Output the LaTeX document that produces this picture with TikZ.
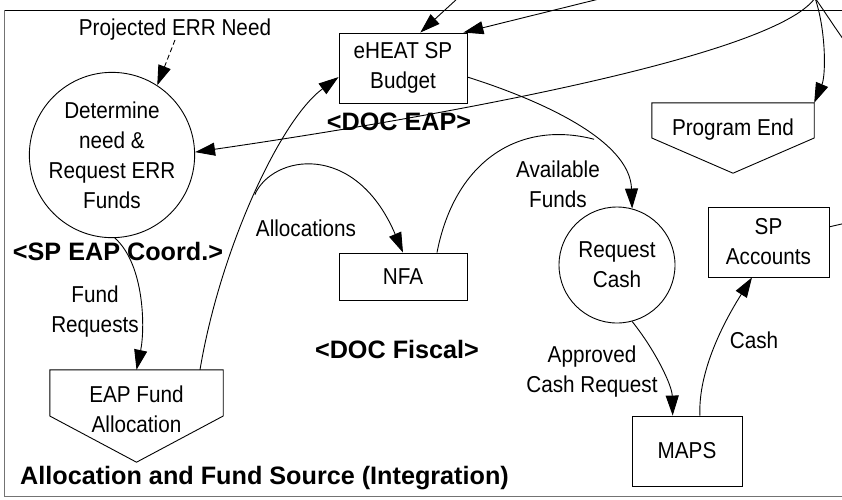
\documentclass[tikz,border=0pt]{standalone}
\usepackage{fontspec}
\setmainfont{Liberation Sans}[FakeStretch=0.9]
\newfontfamily\plainfam{Liberation Sans}
\usetikzlibrary{arrows.meta,calc}
\begin{document}
\begin{tikzpicture}[x=1pt,y=-1pt,
  every node/.style={font=\fontsize{23}{30}\selectfont, inner sep=0pt, text=black},
  boldlbl/.style={font=\plainfam\fontsize{25.2}{30}\selectfont\bfseries},
  proc/.style={circle, draw, line width=0.9pt, align=center},
  store/.style={rectangle, draw, line width=0.9pt, align=center},
  flow/.style={line width=0.9pt, -{Triangle[length=20pt,width=13pt]}},
  plain/.style={line width=0.9pt},
  dashflow/.style={flow, dash pattern=on 5pt off 3pt}
]
\useasboundingbox (0,0) rectangle (842,499);
\fill[white] (0,0) rectangle (842,499);

% frame
\draw[black, line width=0.9pt] (4.5,10) -- (842,10);
\draw[black!55, line width=1.3pt] (4.5,10) -- (4.5,496.5) -- (842,496.5);

% process / store nodes
\node[proc, minimum size=148] (det) at (112,155) {Determine\\need \&\\Request ERR\\Funds};
\node[store, minimum width=128, minimum height=70] (eheat) at (403,68) {eHEAT SP\\Budget};
\node[store, minimum width=128, minimum height=47] (nfa) at (403,276.5) {NFA};
\node[proc, minimum size=116] (rc) at (617,265) {Request\\Cash};
\node[store, minimum width=121, minimum height=70] (spa) at (768.5,242) {SP\\Accounts};
\node[store, minimum width=110, minimum height=70] (maps) at (687,451) {MAPS};

% off-page connectors (pentagons)
\node[minimum width=162, minimum height=70] (pend) at (733,138) {};
\draw[plain] (pend.north west) -- (pend.north east) -- (pend.east) -- (pend.south) -- (pend.west) -- cycle;
\node[anchor=base] (pendtxt) at (733,135) {Program End};
\node[minimum width=173, minimum height=92] (fal) at (136.5,416) {};
\draw[plain] (fal.north west) -- (fal.north east) -- (fal.east) -- (fal.south) -- (fal.west) -- cycle;
\node[align=center] (faltxt) at (136.5,409.5) {EAP Fund\\Allocation};

% labels
\node[anchor=base] (pnd) at (175,35) {Projected ERR Need};
\node[boldlbl, anchor=base] (doceap) at (399,130) {<DOC EAP>};
\node[boldlbl, anchor=base] (docfis) at (397,358) {<DOC Fiscal>};
\node[boldlbl, anchor=base] (spcoord) at (118,260) {<SP EAP Coord.>};
\node[boldlbl, anchor=base west] (title) at (20,484) {Allocation and Fund Source (Integration)};
\node[anchor=base] (lalloc) at (306,236) {Allocations};
\node[align=center] (lavail) at (558,184) {Available\\Funds};
\node[align=center] (lfreq) at (95,312) {Fund\\Requests};
\node[align=center] (lappr) at (592,372) {Approved\\Cash Request};
\node[anchor=base] (lcash) at (754,348) {Cash};

% free ends
\coordinate (topA) at (458,-2);
\coordinate (topB) at (603,-2);
\coordinate (topC) at (815,-2);
\coordinate (exitR) at (846,43);
\coordinate (exitS) at (846,223);

% connectors
\draw[dashflow] (pnd.south) -- (det.57);
\draw[flow] (topA) -- (eheat.64);
\draw[flow] (topB) -- ([xshift=-4pt]eheat.north east);
\draw[flow] (topC) .. controls (775,55) and (450,115) .. (det.2);
\draw[flow] (topC) .. controls (826,30) and (826,75) .. (pend.north east);
\draw[plain] (topC) .. controls (825,12) and (835,28) .. (exitR);
\draw[flow] (eheat.-8) .. controls (540,100) and (630,140) .. (rc.75) coordinate[pos=0.6] (jn);
\draw[plain] ($(nfa.north)+(34,0)$) .. controls (455,160) and (520,120) .. (jn);
\draw[flow] ($(fal.north)+(63.5,0)$) .. controls (220,250) and (280,120) .. (eheat.188) coordinate[pos=0.5] (abr);
\draw[flow] (abr) .. controls (272,155) and (355,140) .. (nfa.north);
\draw[flow] (det.-88) .. controls (145,265) and (145,330) .. (fal.north);
\draw[flow] (rc.-75) .. controls (655,350) and (672,385) .. (maps.112);
\draw[flow] (maps.70) .. controls (698,370) and (725,320) .. (spa.245);
\draw[plain] (spa.14) -- (exitS);
\end{tikzpicture}
\end{document}
